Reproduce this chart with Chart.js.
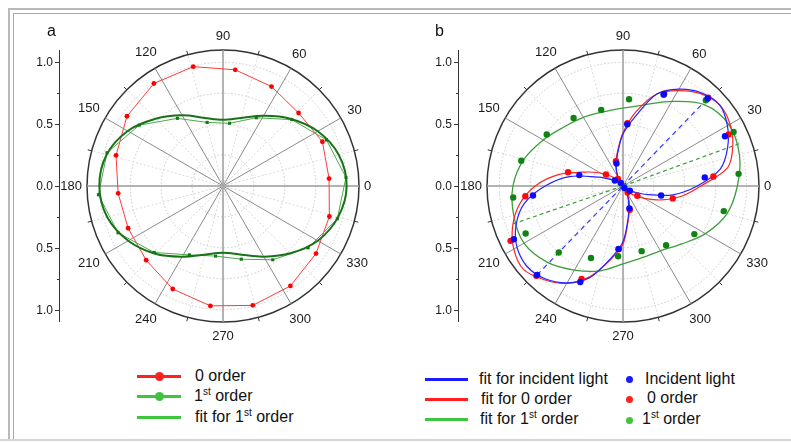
<!DOCTYPE html>
<html>
<head>
<meta charset="utf-8">
<script src="https://cdn.jsdelivr.net/npm/chart.js@4.4.1/dist/chart.umd.min.js"></script>
<style>
body{margin:0;background:#fff;font-family:"Liberation Sans",Arial,sans-serif;}
#page{position:relative;width:791px;height:442px;overflow:hidden;background:#fff;}
.frame1{position:absolute;left:8px;top:8px;width:900px;height:431px;border-left:2px solid #b9b9b9;border-top:2px solid #b9b9b9;}
.frame2{position:absolute;left:13px;top:13px;width:900px;height:426px;border-left:1px solid #a9a9a9;border-top:1px solid #a9a9a9;}
.bottom{position:absolute;left:0;top:439px;width:791px;border-top:2px solid #d4d4d4;}
canvas{position:absolute;}
.lbl{position:absolute;font-size:16px;color:#111;white-space:nowrap;line-height:18px;}
.lbl sup{font-size:10px;vertical-align:6px;line-height:0;}
.ln{position:absolute;height:3px;}
.dot{position:absolute;border-radius:50%;}
.tag{position:absolute;font-size:16px;color:#111;line-height:18px;}
</style>
</head>
<body>
<div id="page">
  <div class="frame1"></div>
  <div class="frame2"></div>
  <div class="bottom"></div>
  <canvas id="chartA" width="380" height="327" style="left:20px;top:18px"></canvas>
  <canvas id="chartB" width="386" height="327" style="left:405px;top:18px"></canvas>
  <div class="tag" style="left:47px;top:22px">a</div>
  <div class="tag" style="left:435px;top:22px">b</div>

  <!-- legend a -->
  <div class="ln" style="left:137px;top:375px;width:44px;background:#ff2020"></div>
  <div class="dot" style="left:155px;top:372px;width:9px;height:9px;background:#ff2020"></div>
  <div class="lbl" style="left:195px;top:367px">0 order</div>
  <div class="ln" style="left:137px;top:395px;width:44px;background:#3ec43e"></div>
  <div class="dot" style="left:155px;top:392px;width:9px;height:9px;background:#3ec43e"></div>
  <div class="lbl" style="left:194px;top:387px">1<sup>st</sup> order</div>
  <div class="ln" style="left:137px;top:416px;width:44px;background:#3ec43e"></div>
  <div class="lbl" style="left:195px;top:408px">fit for 1<sup>st</sup> order</div>

  <!-- legend b -->
  <div class="ln" style="left:425px;top:378px;width:43px;background:#1a1aff"></div>
  <div class="lbl" style="left:479px;top:370px">fit for incident light</div>
  <div class="ln" style="left:425px;top:398px;width:43px;background:#ff2020"></div>
  <div class="lbl" style="left:481px;top:390px">fit for 0 order</div>
  <div class="ln" style="left:425px;top:418px;width:43px;background:#3ec43e"></div>
  <div class="lbl" style="left:480px;top:410px">fit for 1<sup>st</sup> order</div>
  <div class="dot" style="left:626px;top:376px;width:7px;height:7px;background:#1a1aff"></div>
  <div class="lbl" style="left:645px;top:370px">Incident light</div>
  <div class="dot" style="left:626px;top:396px;width:7px;height:7px;background:#ff2020"></div>
  <div class="lbl" style="left:647px;top:389px">0 order</div>
  <div class="dot" style="left:626px;top:417px;width:7px;height:7px;background:#3ec43e"></div>
  <div class="lbl" style="left:642px;top:410px">1<sup>st</sup> order</div>
</div>

<script>
// ================= AXES =================
const angleLabels = [0, 30, 60, 90, 120, 150, 180, 210, 240, 270, 300, 330];
const gridValues = [0.25, 0.5, 0.75, 1.0, 1.1];
const axisMajor = [1.0, 0.5, 0.0, -0.5, -1.0];
const axisMinor = [0.75, 0.25, -0.25, -0.75];

// ================= PANEL A =================
const angA = [4, 24, 44, 64, 84, 104, 124, 144, 164, 184, 204, 224, 244, 264, 284, 304, 324, 344];
const zeroOrderA = [0.86, 0.88, 0.85, 0.895, 0.945, 0.995, 1.0, 0.96, 0.9, 0.85, 0.84, 0.864, 0.927, 0.975, 0.995, 0.975, 0.93, 0.895];
const firstOrderA = [0.997, 0.916, 0.773, 0.614, 0.51, 0.53, 0.66, 0.837, 0.976, 1.01, 0.93, 0.774, 0.62, 0.57, 0.61, 0.72, 0.851, 0.962];
const fitAngA = [0, 15, 30, 45, 60, 75, 90, 105, 120, 135, 150, 165, 180, 195, 210, 225, 240, 255, 270, 285, 300, 315, 330, 345];
const fitFirstA = [1.0, 0.97, 0.885, 0.77, 0.655, 0.57, 0.535, 0.57, 0.66, 0.77, 0.89, 0.975, 1.0, 0.97, 0.885, 0.775, 0.66, 0.575, 0.54, 0.575, 0.66, 0.77, 0.885, 0.965];

// ================= PANEL B =================
const angB = [6, 26, 46, 66, 86, 106, 126, 146, 166, 186, 206, 226, 246, 266, 286, 306, 326, 346];
const incidentB = [0.665, 0.918, 0.985, 0.813, 0.5, 0.19, 0.03, 0.08, 0.364, 0.732, 0.982, 1.0, 0.85, 0.51, 0.188, 0.02, 0.067, 0.318];
const zeroOrderB = [0.735, 0.95, 0.993, 0.818, 0.51, 0.208, 0.07, 0.166, 0.458, 0.794, 1.012, 1.009, 0.824, 0.513, 0.2, 0.064, 0.14, 0.415];
const firstOrderB = [0.94, 0.995, 0.965, 0.807, 0.703, 0.64, 0.68, 0.744, 0.848, 0.893, 0.876, 0.748, 0.637, 0.57, 0.548, 0.593, 0.696, 0.84];

const fitAngB = [0, 10, 20, 30, 40, 50, 60, 70, 80, 90, 100, 110, 120, 130, 140, 150, 160, 170,
                 180, 190, 200, 210, 220, 230, 240, 250, 260, 270, 280, 290, 300, 310, 320, 330, 340, 350];
const fitIncidentB = [0.6, 0.8, 0.9, 0.975, 1.02, 0.985, 0.905, 0.79, 0.57, 0.42, 0.26, 0.16, 0.08, 0.03, 0.04, 0.1, 0.21, 0.44,
                      0.63, 0.81, 0.92, 0.99, 1.013, 0.98, 0.905, 0.79, 0.6, 0.45, 0.25, 0.13, 0.06, 0.03, 0.05, 0.09, 0.2, 0.41];
const fitZeroB = [0.63, 0.86, 0.945, 1.0, 1.02, 0.975, 0.89, 0.79, 0.61, 0.43, 0.27, 0.17, 0.09, 0.05, 0.12, 0.21, 0.33, 0.53,
                  0.71, 0.85, 0.95, 1.02, 1.05, 0.99, 0.91, 0.78, 0.61, 0.47, 0.26, 0.15, 0.08, 0.06, 0.12, 0.2, 0.33, 0.48];
const fitAngFirstB = [0, 15, 30, 45, 60, 75, 90, 105, 120, 135, 150, 165, 180, 195, 210, 225, 240, 255, 270, 285, 300, 315, 330, 345];
const fitFirstB = [0.925, 0.975, 0.99, 0.93, 0.79, 0.68, 0.63, 0.62, 0.64, 0.675, 0.745, 0.83, 0.89, 0.915, 0.925, 0.87, 0.785, 0.71, 0.63, 0.6, 0.605, 0.665, 0.77, 0.87];

// dashed axes of the fits: [angle, value]
const axisIncidentB = [[46, 0.98], [226, 1.0]];
const axisFirstB = [[20, 1.0], [199, 0.94]];


// ================= HELPERS =================
// radar index i sits at polar angle (90 - i), counter-clockwise from the right
const labels360 = Array.from({length: 360}, (_, i) => String((450 - i) % 360));

function toRadar(angles, values){
  const arr = new Array(360).fill(null);
  angles.forEach((a, k) => { arr[(450 - a) % 360] = values[k]; });
  return arr;
}

function radii(pairs){
  const arr = new Array(360).fill(null);
  pairs.forEach(([a, v]) => {
    const i = (450 - a) % 360;
    arr[i] = v;
    arr[i + 1] = 0;
  });
  return arr;
}


// ================= FRAME PLUGIN (angle labels + left axis) =================
const polarFrame = {
  id: 'polarFrame',
  beforeDatasetsDraw(chart, args, opts){
    const s = chart.scales.r;
    const ctx = chart.ctx;
    const cx = s.xCenter, cy = s.yCenter, R = s.drawingArea;
    ctx.save();

    // small ticks on the outer circle
    ctx.strokeStyle = '#333';
    ctx.lineWidth = 1;
    for (let a = 0; a < 360; a += 15) {
      if (a % 30 === 0) continue;
      const i = (450 - a) % 360;
      const p0 = s.getPointPosition(i, R);
      const p1 = s.getPointPosition(i, R + 4);
      ctx.beginPath(); ctx.moveTo(p0.x, p0.y); ctx.lineTo(p1.x, p1.y); ctx.stroke();
    }

    // angle labels
    ctx.font = '13px "Liberation Sans", Arial, sans-serif';
    ctx.fillStyle = '#1a1a1a';
    ctx.textAlign = 'center';
    ctx.textBaseline = 'middle';
    angleLabels.forEach(a => {
      const txt = String(a);
      const w = ctx.measureText(txt).width;
      const rad = a * Math.PI / 180;
      const d = R + 5 + Math.abs(Math.cos(rad)) * w / 2 + Math.abs(Math.sin(rad)) * 9;
      const p = s.getPointPosition((450 - a) % 360, d);
      ctx.fillText(txt, p.x, p.y);
    });

    // left value axis
    const ax = cx - opts.axisOffset;
    const yOf = v => cy - Math.sign(v) * s.getDistanceFromCenterForValue(Math.abs(v));
    ctx.strokeStyle = '#333';
    ctx.lineWidth = 1;
    ctx.beginPath();
    ctx.moveTo(ax + 0.5, cy - R);
    ctx.lineTo(ax + 0.5, cy + R);
    ctx.stroke();
    ctx.font = '12px "Liberation Sans", Arial, sans-serif';
    ctx.textAlign = 'right';
    axisMajor.forEach(v => {
      const y = Math.round(yOf(v)) + 0.5;
      ctx.beginPath(); ctx.moveTo(ax - 4, y); ctx.lineTo(ax + 0.5, y); ctx.stroke();
      ctx.fillText(Math.abs(v).toFixed(1), ax - 6, y);
    });
    axisMinor.forEach(v => {
      const y = Math.round(yOf(v)) + 0.5;
      ctx.beginPath(); ctx.moveTo(ax - 2, y); ctx.lineTo(ax + 0.5, y); ctx.stroke();
    });
    ctx.restore();
  }
};


// ================= OPTIONS =================
function polarOptions(padLeft, padRight, axisOffset){
  return {
    responsive: false,
    animation: false,
    events: [],
    layout: {padding: {left: padLeft, right: padRight, top: 32, bottom: 23}},
    plugins: {
      legend: {display: false},
      tooltip: {enabled: false},
      polarFrame: {axisOffset: axisOffset}
    },
    scales: {
      r: {
        min: 0,
        max: 1.1,
        afterBuildTicks: s => { s.ticks = [0].concat(gridValues).map(v => ({value: v})); },
        ticks: {display: false},
        pointLabels: {display: false},
        grid: {
          circular: true,
          color: c => (c.tick && c.tick.value > 1.05) ? '#333' : '#c8c8c8',
          lineWidth: c => (c.tick && c.tick.value > 1.05) ? 1.5 : 1
        },
        border: {
          dash: c => (c.tick && c.tick.value > 1.05) ? [] : [1.5, 2]
        },
        angleLines: {
          color: c => c.index % 90 === 0 ? '#9a9a9a' : (c.index % 30 === 0 ? '#8a8a8a' : '#dadada'),
          lineWidth: c => c.index % 90 === 0 ? 1.5 : (c.index % 15 === 0 ? 1 : 0),
          borderDash: c => (c.index % 30 === 0) ? [] : [2, 2]
        }
      }
    }
  };
}


// ================= CHART A =================
new Chart(document.getElementById('chartA'), {
  type: 'radar',
  data: {
    labels: labels360,
    datasets: [
      {
        label: 'fit for 1st order',
        data: toRadar(fitAngA, fitFirstA),
        borderColor: '#187318', borderWidth: 2, tension: 0.35,
        spanGaps: true, fill: false, pointRadius: 0, order: 0
      },
      {
        label: '1st order',
        data: toRadar(angA, firstOrderA),
        borderColor: '#4aab4a', borderWidth: 1, tension: 0,
        spanGaps: true, fill: false,
        pointStyle: 'rect', pointRadius: 2.2, pointBorderWidth: 0,
        pointBackgroundColor: '#137813', order: 1
      },
      {
        label: '0 order',
        data: toRadar(angA, zeroOrderA),
        borderColor: '#ff3a3a', borderWidth: 1, tension: 0,
        spanGaps: true, fill: false,
        pointRadius: 2.4, pointBorderWidth: 0,
        pointBackgroundColor: '#ff0000', order: 2
      }
    ]
  },
  options: polarOptions(67, 41, 164),
  plugins: [polarFrame]
});


// ================= CHART B =================
new Chart(document.getElementById('chartB'), {
  type: 'radar',
  data: {
    labels: labels360,
    datasets: [
      {
        label: 'Incident light',
        data: toRadar(angB, incidentB),
        showLine: false, fill: false, spanGaps: true,
        pointRadius: 3.2, pointBorderWidth: 0, pointBackgroundColor: '#0a0aff', order: 0
      },
      {
        label: '0 order',
        data: toRadar(angB, zeroOrderB),
        showLine: false, fill: false, spanGaps: true,
        pointRadius: 3.2, pointBorderWidth: 0, pointBackgroundColor: '#ff0a0a', order: 1
      },
      {
        label: '1st order',
        data: toRadar(angB, firstOrderB),
        showLine: false, fill: false, spanGaps: true,
        pointRadius: 3.2, pointBorderWidth: 0, pointBackgroundColor: '#128212', order: 2
      },
      {
        label: 'fit for incident light',
        data: toRadar(fitAngB, fitIncidentB),
        borderColor: '#2424ff', borderWidth: 1.2, tension: 0.3,
        spanGaps: true, fill: false, pointRadius: 0, order: 3
      },
      {
        label: 'fit for 0 order',
        data: toRadar(fitAngB, fitZeroB),
        borderColor: '#ff2424', borderWidth: 1.2, tension: 0.3,
        spanGaps: true, fill: false, pointRadius: 0, order: 4
      },
      {
        label: 'axis incident',
        data: radii(axisIncidentB),
        borderColor: '#3a3aff', borderWidth: 1.2, borderDash: [5, 4],
        spanGaps: false, fill: false, pointRadius: 0, order: 5
      },
      {
        label: 'axis 1st order',
        data: radii(axisFirstB),
        borderColor: '#3d9e3d', borderWidth: 1.2, borderDash: [4, 3],
        spanGaps: false, fill: false, pointRadius: 0, order: 6
      },
      {
        label: 'fit for 1st order',
        data: toRadar(fitAngFirstB, fitFirstB),
        borderColor: '#3d9e3d', borderWidth: 1.3, tension: 0.35,
        spanGaps: true, fill: false, pointRadius: 0, order: 7
      }
    ]
  },
  options: polarOptions(82, 32, 165),
  plugins: [polarFrame]
});
</script>
</body>
</html>
